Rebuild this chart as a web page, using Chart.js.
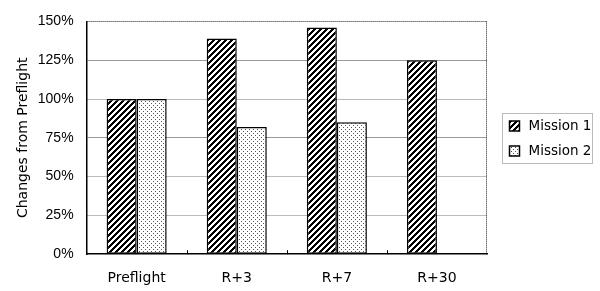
<!DOCTYPE html>
<html>
<head>
<meta charset="utf-8">
<script src="https://cdn.jsdelivr.net/npm/chart.js@4.4.0/dist/chart.umd.min.js"></script>
<style>
  body { margin: 0; background: #fff; }
  #wrap { width: 600px; height: 291px; }
</style>
</head>
<body>
<div id="wrap"><canvas id="chart" width="600" height="291"></canvas></div>
<script>
// Data
const categories = ['Preflight', 'R+3', 'R+7', 'R+30'];
const mission1 = [100, 139, 146, 125];
const mission2 = [100, 82, 85, null];
const seriesNames = ['Mission 1', 'Mission 2'];
const yAxisTitle = 'Changes from Preflight';
const yMin = 0, yMax = 150, yStep = 25;

const canvas = document.getElementById('chart');
const mainCtx = canvas.getContext('2d');

// Upward diagonal hatch ("/"), black on white
function makeHatch() {
    const c = document.createElement('canvas');
    c.width = 6; c.height = 6;
    const g = c.getContext('2d');
    g.fillStyle = '#fff';
    g.fillRect(0, 0, 6, 6);
    g.fillStyle = '#000';
    for (let y = 0; y < 6; y++) {
        for (let x = 0; x < 6; x++) {
            if ((x + y) % 6 < 3) g.fillRect(x, y, 1, 1);
        }
    }
    return mainCtx.createPattern(c, 'repeat');
}

// Sparse dot pattern
function makeDots() {
    const c = document.createElement('canvas');
    c.width = 4; c.height = 4;
    const g = c.getContext('2d');
    g.fillStyle = '#fff';
    g.fillRect(0, 0, 4, 4);
    g.fillStyle = '#555';
    g.fillRect(1, 1, 1, 1);
    g.fillRect(3, 3, 1, 1);
    return mainCtx.createPattern(c, 'repeat');
}

// Frame (top/right), small category ticks and a boxed legend
const framePlugin = {
    id: 'frame',
    afterDatasetsDraw(chart) {
        const { ctx, chartArea: a, scales: { x } } = chart;
        ctx.save();
        ctx.strokeStyle = '#222';
        ctx.lineWidth = 1;
        ctx.setLineDash([1, 1]);
        ctx.beginPath();
        ctx.moveTo(a.left, Math.round(a.top) + 0.5);
        ctx.lineTo(a.right, Math.round(a.top) + 0.5);
        ctx.moveTo(Math.round(a.right) - 0.5, a.top);
        ctx.lineTo(Math.round(a.right) - 0.5, a.bottom);
        ctx.stroke();
        ctx.setLineDash([]);

        ctx.strokeStyle = '#000';
        ctx.beginPath();
        for (let i = 1; i < categories.length; i++) {
            const px = Math.round((x.getPixelForValue(i - 1) + x.getPixelForValue(i)) / 2) + 0.5;
            ctx.moveTo(px, a.bottom);
            ctx.lineTo(px, a.bottom - 4);
        }
        ctx.stroke();
        ctx.restore();
    },
    afterDraw(chart) {
        const { ctx, chartArea: a } = chart;
        const sets = chart.data.datasets;
        const rowH = 25;
        const mid = (a.top + a.bottom) / 2;
        const boxL = Math.round(a.right + 15) + 0.5;
        const boxT = Math.round(mid - sets.length * rowH / 2) + 0.5;
        const boxW = 90, boxH = sets.length * rowH;
        ctx.save();
        ctx.strokeStyle = '#777';
        ctx.lineWidth = 1;
        ctx.setLineDash([1, 1]);
        ctx.strokeRect(boxL, boxT, boxW, boxH);
        ctx.setLineDash([]);
        ctx.font = '13.5px "DejaVu Sans"';
        ctx.textBaseline = 'middle';
        ctx.fillStyle = '#000';
        sets.forEach((ds, i) => {
            const cy = boxT + rowH * i + rowH / 2;
            const sx = boxL + 7;
            ctx.fillStyle = ds.backgroundColor;
            ctx.fillRect(sx, cy - 5, 10, 10);
            ctx.strokeStyle = '#000';
            ctx.lineWidth = 1.5;
            ctx.strokeRect(sx, cy - 5, 10, 10);
            ctx.fillStyle = '#000';
            ctx.fillText(ds.label, sx + 19, cy);
        });
        ctx.restore();
    }
};

const dottedTicks = [25, 50, 100];

new Chart(canvas, {
    type: 'bar',
    data: {
        labels: categories,
        datasets: [
            {
                label: seriesNames[0],
                data: mission1,
                backgroundColor: makeHatch(),
                borderColor: '#000',
                borderWidth: 1.5,
                borderSkipped: false
            },
            {
                label: seriesNames[1],
                data: mission2,
                backgroundColor: makeDots(),
                borderColor: '#000',
                borderWidth: 1.5,
                borderSkipped: false
            }
        ]
    },
    options: {
        responsive: false,
        animation: false,
        layout: { padding: { top: 12, left: 0, right: 113, bottom: -12 } },
        datasets: {
            bar: { categoryPercentage: 0.6, barPercentage: 1.0 }
        },
        scales: {
            x: {
                grid: { display: false, drawTicks: false },
                border: { display: true, color: '#000', width: 1.5 },
                ticks: {
                    color: '#000',
                    padding: 16,
                    font: { family: 'DejaVu Sans', size: 14 }
                }
            },
            y: {
                min: yMin,
                max: yMax,
                grid: {
                    drawTicks: false,
                    lineWidth: 1,
                    color: function(ctx) {
                        const v = ctx.tick ? ctx.tick.value : null;
                        if (v === yMax || v === yMin) return 'rgba(0,0,0,0)';
                        return dottedTicks.includes(v) ? '#777' : '#999';
                    }
                },
                border: {
                    display: true,
                    color: '#000',
                    width: 1.5,
                    dash: function(ctx) {
                        const v = ctx.tick ? ctx.tick.value : null;
                        return dottedTicks.includes(v) ? [1, 1] : [];
                    }
                },
                ticks: {
                    stepSize: yStep,
                    color: '#000',
                    padding: 13,
                    font: { family: 'Liberation Sans', size: 14 },
                    callback: v => v + '%'
                },
                title: {
                    display: true,
                    text: yAxisTitle,
                    color: '#000',
                    padding: { top: 15, bottom: -7 },
                    font: { family: 'DejaVu Sans', size: 14 }
                }
            }
        },
        plugins: {
            legend: { display: false },
            tooltip: { enabled: false }
        }
    },
    plugins: [framePlugin]
});
</script>
</body>
</html>
